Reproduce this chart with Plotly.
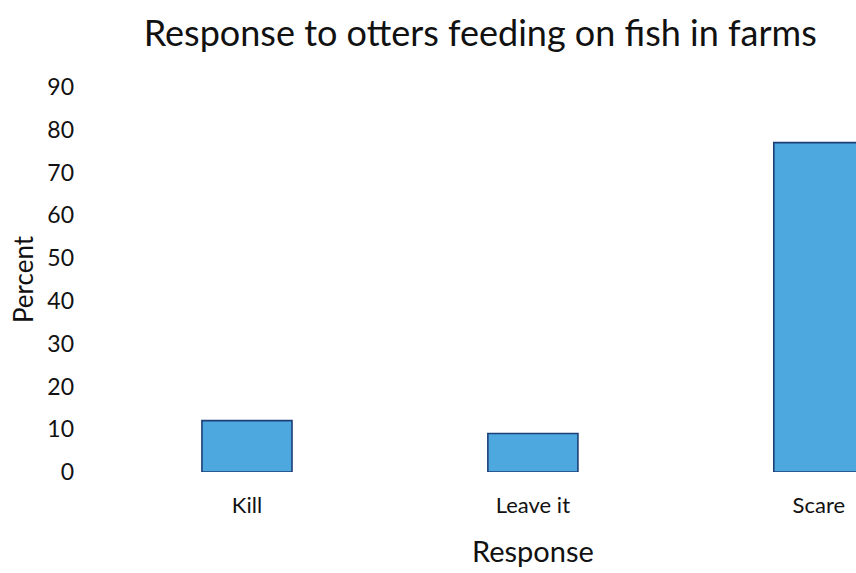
import plotly.graph_objects as go

categories = ["Kill", "Leave it", "Scare"]
percent = [12, 9, 77]
y_ticks = [0, 10, 20, 30, 40, 50, 60, 70, 80, 90]

FONT = "Lato, 'Open Sans', sans-serif"

fig = go.Figure(
    go.Bar(
        x=categories,
        y=percent,
        width=0.315,
        marker=dict(color="#4ca8de", line=dict(color="#1d3f78", width=1.6)),
    )
)

fig.update_layout(
    width=856,
    height=573,
    margin=dict(l=104, r=0, t=87, b=101),
    paper_bgcolor="white",
    plot_bgcolor="white",
    showlegend=False,
    font=dict(family=FONT, color="#111111"),
    title=dict(
        text="Response to otters feeding on fish in farms",
        x=0.561,
        xanchor="center",
        y=0.942,
        yanchor="middle",
        font=dict(size=36, family=FONT, color="#111111"),
    ),
    annotations=[
        dict(
            text="Response",
            xref="paper",
            yref="paper",
            x=0.57,
            y=-0.205,
            xanchor="center",
            yanchor="middle",
            showarrow=False,
            font=dict(size=29, family=FONT, color="#111111"),
        )
    ],
)

fig.update_xaxes(
    range=[-0.5, 2.13],
    showgrid=False,
    zeroline=False,
    showline=False,
    ticks="",
    tickfont=dict(size=22, family=FONT, color="#111111"),
    ticklabelstandoff=18,
)

fig.update_yaxes(
    range=[0, 90],
    tickvals=y_ticks,
    showgrid=False,
    zeroline=False,
    showline=False,
    ticks="",
    tickfont=dict(size=23, family=FONT, color="#111111"),
    ticklabelstandoff=29,
    title=dict(text="Percent", font=dict(size=26, family=FONT, color="#111111"), standoff=6),
)

fig.write_html("out.html")
